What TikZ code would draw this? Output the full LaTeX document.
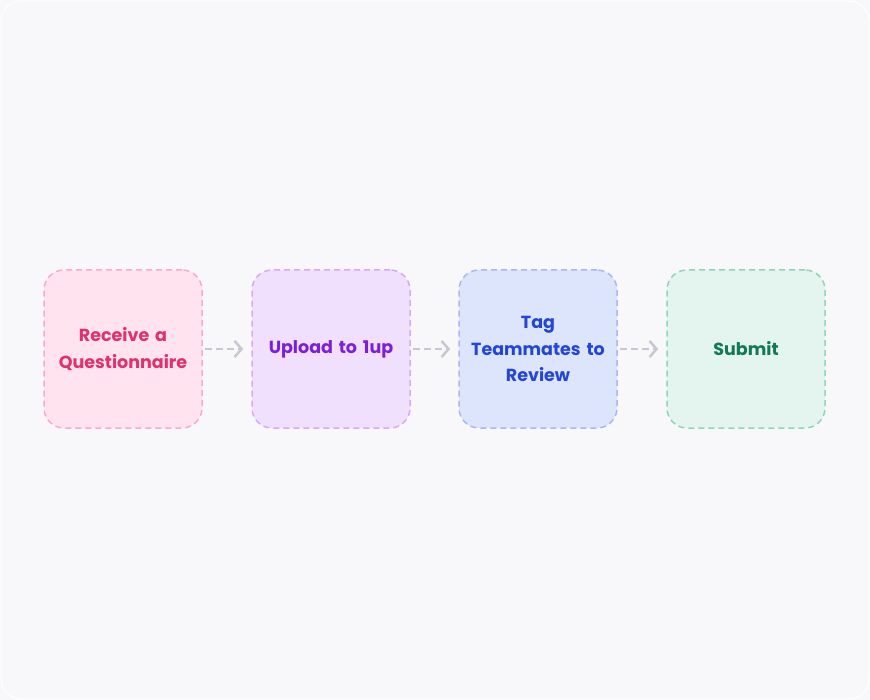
\documentclass[tikz,border=0pt]{standalone}
\usepackage{fontspec}
\setmainfont{Poppins}
\usetikzlibrary{arrows.meta}
\definecolor{bg}{HTML}{F8F8FA}
\definecolor{pinkF}{HTML}{FFE4EF}\definecolor{pinkD}{HTML}{FBA9CB}\definecolor{pinkT}{HTML}{E0306E}
\definecolor{purF}{HTML}{F0DFFD}\definecolor{purD}{HTML}{D7A9F7}\definecolor{purT}{HTML}{7D1FD9}
\definecolor{bluF}{HTML}{DDE5FD}\definecolor{bluD}{HTML}{A6B8F5}\definecolor{bluT}{HTML}{2346D8}
\definecolor{grnF}{HTML}{E4F4EE}\definecolor{grnD}{HTML}{8FD6B8}\definecolor{grnT}{HTML}{117A55}
\definecolor{arr}{HTML}{C9C7D2}
\begin{document}
\begin{tikzpicture}[x=1pt,y=-1pt,
  box/.style={rounded corners=20pt,minimum width=158pt,minimum height=158pt,dashed,dash pattern=on 6pt off 4pt,line width=1.5pt,align=center,font=\fontsize{17.5}{26.5}\selectfont\bfseries,text width=145pt,inner sep=0pt},
  con/.style={draw=arr,line width=2.5pt,dash pattern=on 7pt off 4pt,-{Straight Barb[length=7pt,width=16pt,line width=2.5pt]}}]
\useasboundingbox (0,0) rectangle (870,700);
\fill[bg] (0,0) rectangle (870,700);
\draw[white,line width=1pt,rounded corners=20pt] (1,1) rectangle (869,699);
\node[box,fill=pinkF,draw=pinkD,text=pinkT] (a) at (123,349) {Receive a\\Questionnaire};
\node[box,fill=purF,draw=purD,text=purT] (b) at (331,349) {Upload to 1up};
\node[box,fill=bluF,draw=bluD,text=bluT] (c) at (538,349) {Tag\\Teammates to\\Review};
\node[box,fill=grnF,draw=grnD,text=grnT] (d) at (746,349) {Submit};
\draw[con] ([xshift=2pt]a.east) -- ([xshift=-8pt]b.west);
\draw[con] ([xshift=2pt]b.east) -- ([xshift=-8pt]c.west);
\draw[con] ([xshift=2pt]c.east) -- ([xshift=-8pt]d.west);
\end{tikzpicture}
\end{document}
